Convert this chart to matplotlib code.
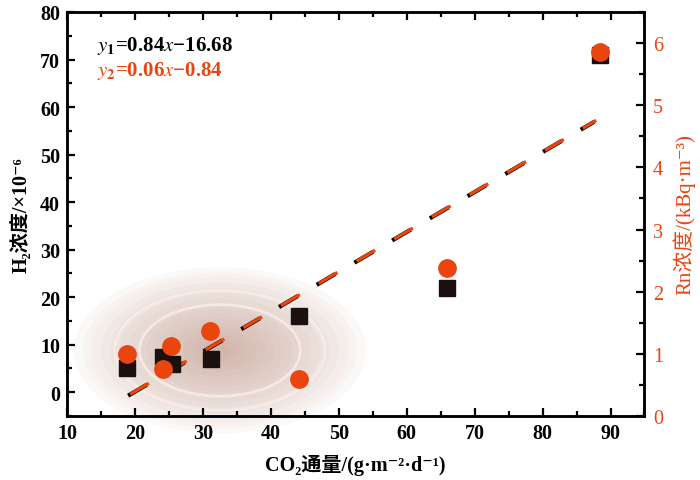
import numpy as np
import matplotlib
matplotlib.use("Agg")
import matplotlib.pyplot as plt
from matplotlib.patches import Ellipse
from matplotlib.ticker import MultipleLocator

plt.rcParams['font.family'] = ['Liberation Serif', 'DejaVu Serif', 'Noto Sans CJK SC']
plt.rcParams['mathtext.fontset'] = 'stix'
plt.rcParams['axes.linewidth'] = 1.8

orange = '#e8450f'

co2 = [18.8, 24.2, 25.5, 31.2, 44.2, 66.0, 88.5]
h2 = [5.0, 7.5, 6.0, 7.0, 16.0, 22.0, 71.0]
co2_rn = [18.8, 24.2, 25.3, 31.0, 44.2, 66.0, 88.5]
rn = [1.0, 0.76, 1.13, 1.37, 0.59, 2.38, 5.85]

fit_x = [19.0, 87.6]
k1, b1 = 0.84, -16.68

fig = plt.figure(figsize=(7, 4.81), dpi=100)
ax = fig.add_axes([0.0957, 0.133, 0.825, 0.840])
ax2 = ax.twinx()

# soft background blob behind the cluster
cx, cy = 32.5, 8.8
for i in range(16):
    s = 1 - i / 16
    ax.add_patch(Ellipse((cx, cy), 43 * s, 35 * s, facecolor='#b07a68',
                         edgecolor='none', alpha=0.045, zorder=0, clip_on=False))
for s in [0.88, 0.72, 0.55]:
    ax.add_patch(Ellipse((cx, cy), 43 * s, 35 * s, facecolor='none',
                         edgecolor='#fbeee8', lw=2.0, alpha=0.8, zorder=0, clip_on=False))

fx = np.array(fit_x)
line_black, = ax.plot(fx, k1 * fx + b1, color='black', lw=3.0, zorder=3)
line_black.set_dashes((5.2, 5.3))
line_or, = ax.plot(fx + 0.3, k1 * fx + b1 + 0.3, color=orange, lw=2.4, zorder=4)
line_or.set_dashes((6.5, 6.625))

ax.plot(co2, h2, 's', color='#1a1010', ms=11, zorder=5, ls='none')
ax2.plot(co2_rn, rn, 'o', color=orange, ms=12.5, zorder=6, ls='none')

ax.set_xlim(10, 95)
ax.set_ylim(-5, 80)
ax2.set_ylim(0, 6.5)

ax.xaxis.set_major_locator(MultipleLocator(10))
ax.xaxis.set_minor_locator(MultipleLocator(5))
ax.yaxis.set_major_locator(MultipleLocator(10))
ax.yaxis.set_minor_locator(MultipleLocator(5))
ax2.yaxis.set_major_locator(MultipleLocator(1))
ax2.yaxis.set_minor_locator(MultipleLocator(0.5))

ax.tick_params(which='both', direction='in', top=True, width=1.6)
ax.tick_params(which='major', length=6, labelsize=14.5, pad=5)
ax.tick_params(which='minor', length=3.5)
ax.tick_params(axis='y', right=False, which='both')
ax2.tick_params(which='both', direction='in', width=1.6, colors='black', labelcolor=orange)
ax2.tick_params(which='major', length=6, labelsize=14.5, pad=6)
ax2.tick_params(which='minor', length=3.5)
for lab in ax.get_xticklabels() + ax.get_yticklabels():
    lab.set_fontweight('bold')

ax.set_xlabel('CO₂通量/(g·m⁻²·d⁻¹)', fontsize=14.5, fontweight='bold', labelpad=8)
ax.set_ylabel('H₂浓度/×10⁻⁶', fontsize=14.5, fontweight='bold', labelpad=6)
ax2.set_ylabel('Rn浓度/(kBq·m⁻³)', fontsize=15, color=orange, labelpad=7)

ax.text(0.052, 0.905, r'$\mathbf{\mathit{y}_1}$' + '=0.84' + r'$\mathbf{\mathit{x}}$' + '−16.68',
        transform=ax.transAxes, fontsize=15, fontweight='bold', color='black')
ax.text(0.052, 0.845, r'$\mathbf{\mathit{y}_2}$' + '=0.06' + r'$\mathbf{\mathit{x}}$' + '−0.84',
        transform=ax.transAxes, fontsize=15, fontweight='bold', color=orange)

fig.savefig('out.png', dpi=100)
